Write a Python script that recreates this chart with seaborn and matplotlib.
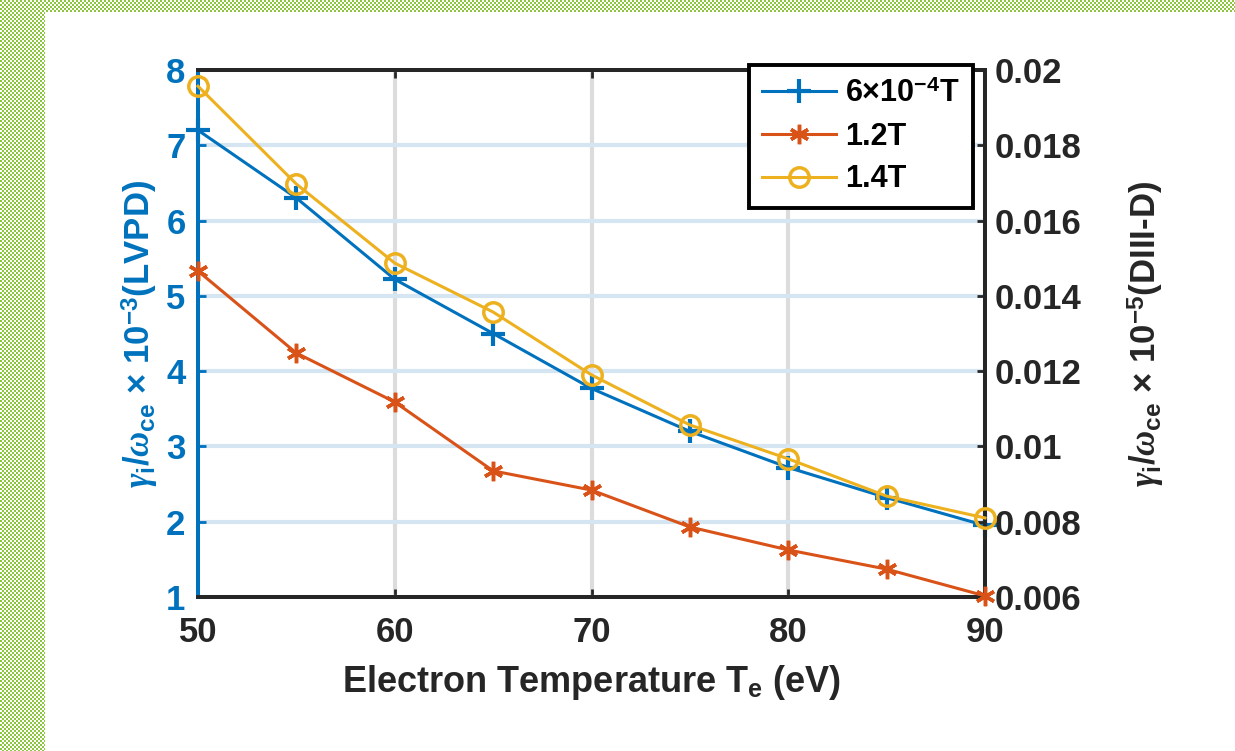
import numpy as np
import pandas as pd
import matplotlib
matplotlib.use("Agg")
import matplotlib.pyplot as plt
import seaborn as sns

# ---------------- data ----------------
temperature = [50, 55, 60, 65, 70, 75, 80, 85, 90]
lvpd_6e4T = [7.2, 6.3, 5.22, 4.5, 3.77, 3.2, 2.72, 2.32, 1.95]          # left axis (x1e-3)
diiid_1p2T = [0.01466, 0.01248, 0.01118, 0.00935, 0.00884, 0.00786, 0.00725, 0.00674, 0.00603]  # right axis
diiid_1p4T = [0.01957, 0.01697, 0.01487, 0.01357, 0.0119, 0.01057, 0.00967, 0.00868, 0.0081]   # right axis
labels = [r"6$\times$10$^{\mathbf{-4}}$T", "1.2T", "1.4T"]
x_ticks = [50, 60, 70, 80, 90]
left_ticks = [1, 2, 3, 4, 5, 6, 7, 8]
right_ticks = [0.006, 0.008, 0.01, 0.012, 0.014, 0.016, 0.018, 0.02]
right_ticklabels = ["0.006", "0.008", "0.01", "0.012", "0.014", "0.016", "0.018", "0.02"]

BLUE = "#0072BD"
RED = "#D95319"
YELLOW = "#EDB120"
DARK = "#262626"

plt.rcParams["font.family"] = ["Liberation Sans", "DejaVu Sans"]
plt.rcParams["font.weight"] = "bold"
plt.rcParams["mathtext.fontset"] = "custom"
plt.rcParams["mathtext.rm"] = "Liberation Sans"
plt.rcParams["mathtext.bf"] = "Liberation Sans:bold"
plt.rcParams["mathtext.it"] = "Liberation Serif:italic"

fig = plt.figure(figsize=(12.35, 7.51), dpi=100)
fig.patch.set_facecolor("white")

# checkered green border (decoration)
H, W = 751, 1235
yy, xx = np.mgrid[0:H, 0:W]
chk = ((yy // 2 + xx // 2) % 2 == 0)
mask = (xx < 45) | (yy < 12)
img = np.ones((H, W, 4))
green = np.array([0.55, 0.78, 0.25, 1.0])
img[chk & mask] = green
img[~mask] = [1, 1, 1, 0]
fig.figimage(img, 0, 0, origin="upper", zorder=0)

ax = fig.add_axes([198 / 1235, 1 - 597 / 751, (985 - 198) / 1235, (597 - 70) / 751])
ax.set_facecolor("none")
ax2 = ax.twinx()

df = pd.DataFrame({"T": temperature, "lvpd": lvpd_6e4T, "r12": diiid_1p2T, "r14": diiid_1p4T})

sns.lineplot(data=df, x="T", y="lvpd", ax=ax, color=BLUE, lw=2.2, marker="+",
             markersize=17, markeredgewidth=3, markeredgecolor=BLUE, label=labels[0],
             zorder=3, clip_on=False)
sns.lineplot(data=df, x="T", y="r12", ax=ax2, color=RED, lw=2.2, marker=(6, 2, 0),
             markersize=14, markeredgewidth=2.5, markeredgecolor=RED, label=labels[1],
             zorder=3, clip_on=False)
sns.lineplot(data=df, x="T", y="r14", ax=ax2, color=YELLOW, lw=2.2, marker="o",
             markersize=14, markeredgewidth=2.5, markeredgecolor=YELLOW,
             markerfacecolor="none", label=labels[2], zorder=3, clip_on=False)

for a in (ax, ax2):
    if a.get_legend() is not None:
        a.get_legend().remove()

ax.set_xlim(50, 90)
ax.set_ylim(1, 8)
ax2.set_ylim(0.006, 0.02)
ax.set_xticks(x_ticks)
ax.set_yticks(left_ticks)
ax2.set_yticks(right_ticks)
ax2.set_yticklabels(right_ticklabels)

# grid
ax.set_axisbelow(True)
ax.yaxis.grid(True, color="#d5e5f2", lw=3)
ax.xaxis.grid(True, color="#dcdcdc", lw=3)
ax2.grid(False)

fs = 25
ax.tick_params(axis="y", colors=BLUE, labelsize=fs, direction="in", length=6, width=2, pad=9)
ax.tick_params(axis="x", colors=DARK, labelsize=fs, direction="in", length=6, width=2, pad=14, top=True)
ax2.tick_params(axis="y", colors=DARK, labelsize=fs, direction="in", length=6, width=2, pad=7)
for lab in ax.get_xticklabels() + ax.get_yticklabels() + ax2.get_yticklabels():
    lab.set_fontweight("bold")

for a in (ax, ax2):
    for s in a.spines.values():
        s.set_linewidth(2.8)
        s.set_color(DARK)
ax.spines["left"].set_color(BLUE)
ax2.spines["left"].set_color(BLUE)

ax.set_xlabel(r"Electron Temperature T$_{\mathbf{e}}$ (eV)", fontsize=26, fontweight="bold",
              color=DARK, labelpad=10)
ax.set_ylabel(r"$\gamma_{\mathbf{i}}/\omega_{\mathbf{ce}}$ $\times$ 10$^{\mathbf{-3}}$(LVPD)",
              fontsize=fs, fontweight="bold", color=BLUE, labelpad=4)
ax2.set_ylabel(r"$\gamma_{\mathbf{i}}/\omega_{\mathbf{ce}}$ $\times$ 10$^{\mathbf{-5}}$(DIII-D)",
               fontsize=fs, fontweight="bold", color=DARK, labelpad=32)

h1, l1 = ax.get_legend_handles_labels()
h2, l2 = ax2.get_legend_handles_labels()
leg = ax2.legend(h1 + h2, l1 + l2, loc="upper right", bbox_to_anchor=(973 / 1235, 1 - 65 / 751),
                 bbox_transform=fig.transFigure, borderaxespad=0, frameon=True,
                 fancybox=False, framealpha=1, edgecolor="black", handlelength=2.4,
                 handletextpad=0.3, labelspacing=0.42, borderpad=0.45,
                 prop={"weight": "bold", "size": 22})
leg.get_frame().set_linewidth(2.8)
leg.set_zorder(10)

fig.savefig("out.png", dpi=100)
